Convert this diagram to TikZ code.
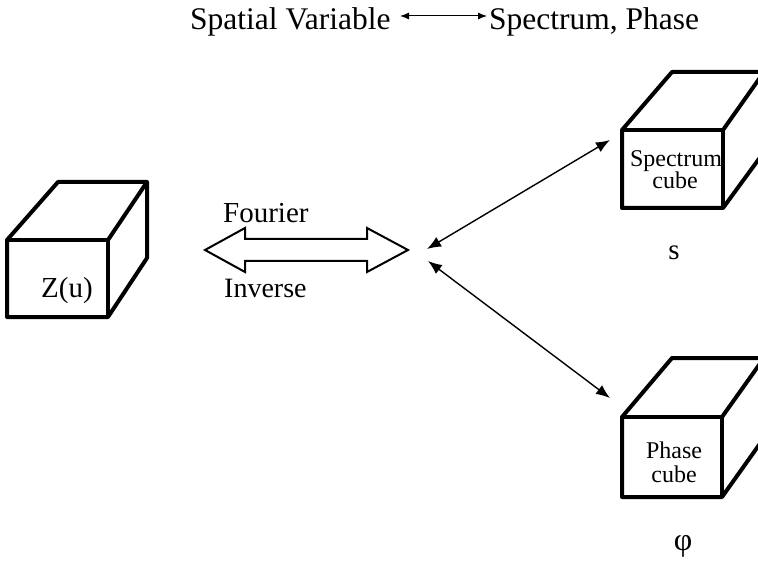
\documentclass[tikz,border=0pt]{standalone}
\usepackage{fontspec}
\setmainfont{Liberation Serif}
\usetikzlibrary{arrows.meta}
\begin{document}
\begin{tikzpicture}[x=1pt,y=-1pt,
  cube/.style={line width=4pt, line join=round},
  lbl/.style={font=\fontsize{29}{32}\selectfont, inner sep=0pt},
  title/.style={font=\fontsize{31.5}{34}\selectfont, inner sep=0pt},
  small/.style={font=\fontsize{24}{24}\selectfont, inner sep=0pt},
  thinarrow/.style={line width=1.4pt, {Latex[length=14pt,width=11pt]}-{Latex[length=14pt,width=11pt]}},
  titlearrow/.style={line width=1pt, {Latex[length=9pt,width=7pt]}-{Latex[length=9pt,width=7pt]}},
  hollow/.style={line width=2pt, line join=miter}]
\clip (0,0) rectangle (758,564);
\fill[white] (0,0) rectangle (758,564);
% Z(u) cube
\draw[cube] (7,240) -- (58,182) -- (147,182) -- (147,258) -- (108,317) -- (7,317) -- cycle;
\draw[cube] (7,240) -- (108,240) -- (108,317);
\draw[cube] (108,240) -- (147,182);
% Spectrum cube
\draw[cube] (622,130) -- (672,72) -- (764,72) -- (764,152) -- (723,208) -- (622,208) -- cycle;
\draw[cube] (622,130) -- (723,130) -- (723,208);
\draw[cube] (723,130) -- (764,72);
% Phase cube
\draw[cube] (622,417) -- (672,358) -- (764,358) -- (764,438) -- (722,497) -- (622,497) -- cycle;
\draw[cube] (622,417) -- (722,417) -- (722,497);
\draw[cube] (722,417) -- (764,358);
% hollow double arrow
\draw[hollow] (205,250) -- (245,228) -- (245,239) -- (367,239) -- (367,228) -- (408,250)
  -- (367,272) -- (367,261) -- (245,261) -- (245,272) -- cycle;
% texts
\node[title, anchor=base west] (sv) at (190,30) {Spatial Variable};
\node[title, anchor=base west] (sp) at (489,30) {Spectrum, Phase};
\coordinate (ta) at (400,16);
\coordinate (tb) at (487,16);
\draw[titlearrow] (ta) -- (tb);
\node[lbl, anchor=base] (z) at (67,298) {Z(u)};
\node[lbl, anchor=base west] (four) at (223,223) {Fourier};
\node[lbl, anchor=base west, font=\fontsize{28}{30}\selectfont] (inv) at (224,298) {Inverse};
\node[lbl, anchor=base] (s) at (674,260) {s};
\node[lbl, font=\fontsize{32}{34}\selectfont] (phi) at (683,546) {φ};
\node[small, anchor=base] (spec) at (676,167) {Spectrum};
\node[small, anchor=base] (specc) at (675,189) {cube};
\node[small, anchor=base] (ph) at (674,458) {Phase};
\node[small, anchor=base] (phc) at (674,482) {cube};
% thin arrows
\coordinate (h1) at (427,249);
\coordinate (s1) at (610,140);
\coordinate (h2) at (428,261);
\coordinate (p1) at (610,398);
\draw[thinarrow] (h1) -- (s1);
\draw[thinarrow] (h2) -- (p1);
\end{tikzpicture}
\end{document}
